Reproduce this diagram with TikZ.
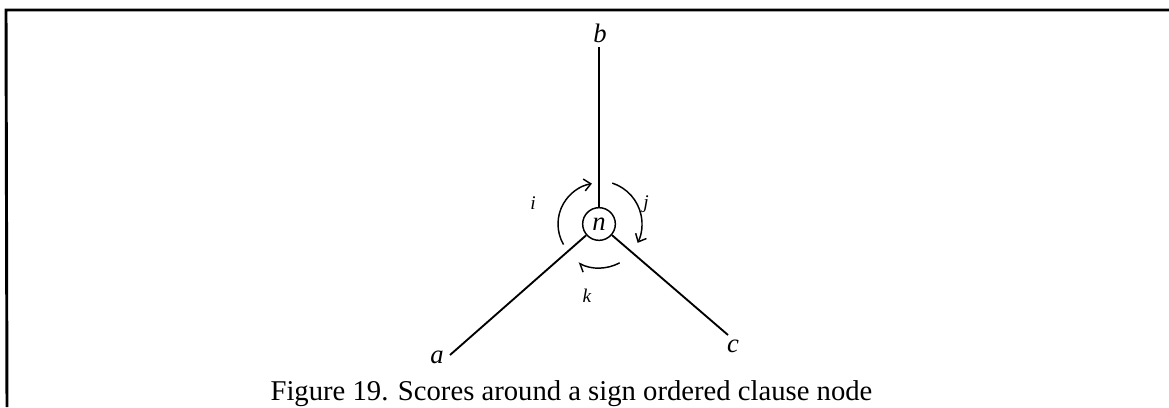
\documentclass[tikz,border=0pt]{standalone}
\usepackage{fontspec}
\setmainfont{Liberation Serif}
\usetikzlibrary{arrows.meta}
\begin{document}
\begin{tikzpicture}[x=0.75pt,y=0.75pt,
  frame/.style={line width=2.2pt},
  edge/.style={line width=1.4pt},
  lab/.style={font=\fontsize{20}{22}\selectfont\itshape, inner sep=0pt},
  small/.style={font=\fontsize{14.5}{16}\selectfont\itshape, inner sep=0pt},
  score/.style={line width=1.1pt, -{Straight Barb[length=5pt,width=9pt]}},
  vtx/.style={circle, draw, line width=1.1pt, minimum size=24.5pt, inner sep=0pt, font=\fontsize{20}{22}\selectfont\itshape}]
\useasboundingbox (0,0) rectangle (1169,-407);
% frame
\coordinate (fl) at (6,-10);
\coordinate (fr) at (1169,-10);
\coordinate (fb) at (7,-407);
\draw[frame] (fr) -- (fl) -- (fb);
% vertex
\node[vtx] (n) at (599,-224) {n};
% labels
\node[lab] (b) at (600,-33) {b};
\node[lab] (a) at (437,-357) {a};
\node[lab] (c) at (733,-346) {c};
\node[small] (i) at (533,-203) {i};
\node[small] (j) at (646,-204) {j};
\node[small] (k) at (587,-296) {k};
% edge ends
\coordinate (be) at (599,-47);
\coordinate (ae) at (450,-355);
\coordinate (ce) at (728,-335);
\draw[edge] (be) -- (n);
\draw[edge] (n) -- (ae);
\draw[edge] (n) -- (ce);
% score arcs
\draw[score] ([shift={(210:41)}]n.center) arc[start angle=210, end angle=100, radius=41];
\draw[score] ([shift={(72:43)}]n.center) arc[start angle=72, end angle=-26, radius=43];
\draw[line width=1.1pt, -{Straight Barb[harpoon,length=5pt,width=9pt]}] ([shift={(-62:44)}]n.center) arc[start angle=-62, end angle=-118, radius=44];
% caption
\node[font=\fontsize{21.5}{24}\selectfont, anchor=base, inner sep=0pt] (cap) at (571.5,-400) {Figure 19. Scores around a sign ordered clause node};
\end{tikzpicture}
\end{document}
